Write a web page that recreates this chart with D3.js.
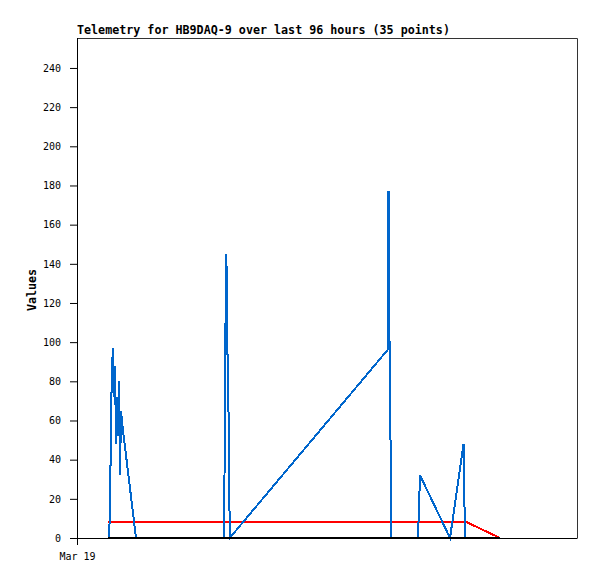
<!DOCTYPE html>
<html lang="en">
    <head>
        <meta charset="utf-8">
        <title>Telemetry</title>
        <script type="text/javascript" src="https://cdnjs.cloudflare.com/ajax/libs/d3/7.8.5/d3.min.js"></script>
        <style>
            body { margin: 0; background: #fff; }
            .axis text { font: 10px "DejaVu Sans Mono", monospace; fill: #000; }
            .axis line, .axis path { stroke: #000; }
            .lbl { font: bold 11.7px "DejaVu Sans Mono", monospace; fill: #000; }
        </style>
    </head>
    <body>
        <script type="text/javascript">

            // hours after Mar 19 00:00
            var blueHours = [6.14, 6.34, 6.53, 6.72, 6.91, 7.10, 7.30, 7.49, 7.68, 7.87, 8.06, 8.26, 8.45, 8.83, 11.33,
                28.22, 28.32, 28.51, 28.61, 28.80, 28.90, 29.18, 29.32,
                59.62, 59.71, 59.81, 59.94, 60.02, 60.29, 60.38,
                65.47, 65.86, 71.62, 74.21, 74.50];
            var blueValues = [0, 14, 60, 88, 97, 72, 88, 48, 72, 52, 80, 32, 65, 55, 0,
                0, 31, 108, 145, 133, 93, 51, 0,
                96, 136, 177, 147, 88, 30, 0,
                0, 32, 0, 48, 0];

            var redHours = [5.95, 74.88, 81.22];
            var redValues = [8, 8, 0];

            var blackHours = [5.95, 81.22];
            var blackValues = [0, 0];

            var yTicks = [0, 20, 40, 60, 80, 100, 120, 140, 160, 180, 200, 220, 240];

            var w = 597, h = 579;
            var pLeft = 77, pRight = 577, pTop = 38, pBottom = 538;

            var start = new Date(Date.UTC(2024, 2, 19));
            var hr = function(v){ return new Date(start.getTime() + v * 3600000); };

            var x = d3.scaleUtc()
                .domain([start, hr(96)])
                .range([pLeft, pRight]);

            var y = d3.scaleLinear()
                .domain([0, 255.3])
                .range([pBottom, pTop]);

            var svg = d3.select("body")
                .append("svg")
                .attr("width", w)
                .attr("height", h);

            // frame
            svg.append("path")
                .attr("d", "M" + pLeft + "," + (pTop + 0.5) + "H" + (pRight + 0.5) + "V" + pBottom)
                .attr("fill", "none")
                .attr("stroke", "#333")
                .attr("stroke-width", 1);

            var line = d3.line()
                .x(function(d){ return x(hr(d[0])); })
                .y(function(d){ return y(d[1]); });

            var series = [
                {h: redHours, v: redValues, c: "#ff0000"},
                {h: blueHours, v: blueValues, c: "#0066cc"},
                {h: blackHours, v: blackValues, c: "#000000"}
            ];

            series.forEach(function(s){
                svg.append("path")
                    .datum(d3.zip(s.h, s.v))
                    .attr("d", line)
                    .attr("fill", "none")
                    .attr("stroke", s.c)
                    .attr("stroke-width", 2)
                    .attr("stroke-linejoin", "miter")
                    .attr("shape-rendering", "crispEdges");
            });

            svg.append("g")
                .attr("class", "axis")
                .attr("transform", "translate(" + pLeft + ",0)")
                .call(d3.axisLeft(y).tickValues(yTicks).tickSize(7).tickPadding(9).tickSizeOuter(0))
                .call(function(g){ g.select(".domain").attr("d", "M0.5," + pTop + "V" + pBottom); });

            svg.append("g")
                .attr("class", "axis")
                .attr("transform", "translate(0," + pBottom + ")")
                .call(d3.axisBottom(x).tickValues([start]).tickFormat(d3.utcFormat("%b %d")).tickSize(7).tickPadding(8).tickSizeOuter(0));

            svg.append("text")
                .attr("class", "lbl")
                .attr("x", pLeft)
                .attr("y", 34)
                .text("Telemetry for HB9DAQ-9 over last 96 hours (35 points)");

            svg.append("text")
                .attr("class", "lbl")
                .attr("transform", "translate(36,290) rotate(-90)")
                .attr("text-anchor", "middle")
                .text("Values");

        </script>
    </body>
</html>
